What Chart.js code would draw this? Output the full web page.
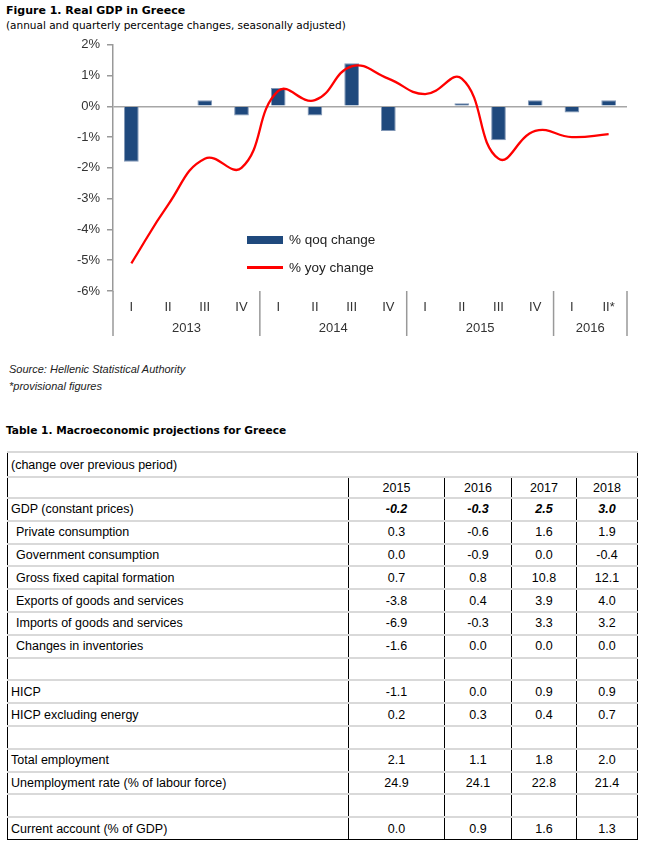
<!DOCTYPE html>
<html lang="en">
<head>
    <meta charset="UTF-8">
    <title>Real GDP in Greece</title>
    <script src="https://cdn.jsdelivr.net/npm/chart.js"></script>
    <style>
        body {
            margin: 0;
            width: 656px;
            height: 853px;
            position: relative;
            background: #fff;
            font-family: "Liberation Sans", Arial, sans-serif;
            color: #000;
        }
        .abs { position: absolute; white-space: nowrap; }
        .title { font-family: "DejaVu Sans", Verdana, sans-serif; font-weight: bold; font-size: 11px; line-height: 14px; }
        .subtitle { font-family: "DejaVu Sans", Verdana, sans-serif; font-size: 10.5px; line-height: 14px; }
        .note { font-style: italic; font-size: 11px; line-height: 14px; color: #222; }
        #chartBox { position: absolute; left: 0; top: 30px; width: 645px; height: 318px; }
        .legend-text { font-size: 13.5px; line-height: 16px; color: #222; }
        table {
            position: absolute;
            left: 7px;
            top: 451px;
            border-collapse: collapse;
            table-layout: fixed;
            font-size: 12.5px;
        }
        td { padding: 0; height: 20.8px; border-top: 2px solid #d9d9d9; border-bottom: 2px solid #d9d9d9;
             border-left: 1.5px solid #000; border-right: 1.5px solid #000; text-align: center; }
        td.lbl { text-align: left; padding-left: 3px; }
        td.sub { padding-left: 8px; }
        tr.cap td { height: 23px; border-right: 1.5px solid #000; border-bottom: 1.5px solid #000; }
        tr.head td { height: 19px; border-bottom: 1.5px solid #000; }
        tr.bold td.v { font-weight: bold; font-style: italic; }
        tr.last td { border-bottom: 1.5px solid #000; }
    </style>
</head>
<body>
    <div class="abs title" style="left:6px; top:4px;">Figure 1. Real GDP in Greece</div>
    <div class="abs subtitle" style="left:6px; top:18px;">(annual and quarterly percentage changes, seasonally adjusted)</div>

    <div id="chartBox"><canvas id="gdpChart"></canvas></div>

    <div class="abs" style="left:247px; top:236px; width:36px; height:8px; background:#1F497D;"></div>
    <div class="abs legend-text" id="legQoq" style="left:289px; top:232px;"></div>
    <div class="abs" style="left:247px; top:266px; width:36px; height:2.5px; background:#FF0000;"></div>
    <div class="abs legend-text" id="legYoy" style="left:289px; top:260px;"></div>

    <div class="abs note" style="left:9px; top:362px;">Source: Hellenic Statistical Authority</div>
    <div class="abs note" style="left:9px; top:379px;">*provisional figures</div>

    <div class="abs title" style="left:6px; top:423px; font-size:10.6px;">Table 1. Macroeconomic projections for Greece</div>
    <table id="projTable"></table>

    <script>
        // chart data
        const quarters = ['I', 'II', 'III', 'IV', 'I', 'II', 'III', 'IV', 'I', 'II', 'III', 'IV', 'I', 'II*'];
        const years = ['2013', '2014', '2015', '2016'];
        const quartersPerYear = [4, 4, 4, 2];
        const qoqChange = [-1.8, 0, 0.2, -0.3, 0.6, -0.3, 1.4, -0.8, 0, 0.1, -1.1, 0.2, -0.2, 0.2];
        const yoyChange = [-5.1, -3.2, -1.7, -2.0, 0.5, 0.2, 1.3, 0.9, 0.4, 0.9, -1.7, -0.8, -1.0, -0.9];
        const qoqLabel = '% qoq change';
        const yoyLabel = '% yoy change';

        // table data
        const tableCaption = '(change over previous period)';
        const tableYears = ['2015', '2016', '2017', '2018'];
        const rowLabels = ['GDP (constant prices)', 'Private consumption', 'Government consumption',
            'Gross fixed capital formation', 'Exports of goods and services', 'Imports of goods and services',
            'Changes in inventories', '', 'HICP', 'HICP excluding energy', '', 'Total employment',
            'Unemployment rate (% of labour force)', '', 'Current account (% of GDP)'];
        const subRows = [1, 2, 3, 4, 5, 6];
        const val2015 = [-0.2, 0.3, 0.0, 0.7, -3.8, -6.9, -1.6, null, -1.1, 0.2, null, 2.1, 24.9, null, 0.0];
        const val2016 = [-0.3, -0.6, -0.9, 0.8, 0.4, -0.3, 0.0, null, 0.0, 0.3, null, 1.1, 24.1, null, 0.9];
        const val2017 = [2.5, 1.6, 0.0, 10.8, 3.9, 3.3, 0.0, null, 0.9, 0.4, null, 1.8, 22.8, null, 1.6];
        const val2018 = [3.0, 1.9, -0.4, 12.1, 4.0, 3.2, 0.0, null, 0.9, 0.7, null, 2.0, 21.4, null, 1.3];

        document.getElementById('legQoq').textContent = qoqLabel;
        document.getElementById('legYoy').textContent = yoyLabel;

        // year labels + separators under the quarter ticks
        const yearGroups = {
            id: 'yearGroups',
            afterDraw(chart) {
                const x = chart.scales.x, area = chart.chartArea, ctx = chart.ctx;
                const half = (x.getPixelForValue(1) - x.getPixelForValue(0)) / 2;
                ctx.save();
                ctx.strokeStyle = '#999';
                ctx.lineWidth = 1.5;
                ctx.fillStyle = '#333';
                ctx.font = '13px "Liberation Sans", Arial';
                ctx.textAlign = 'center';
                ctx.textBaseline = 'middle';
                const vline = (px) => {
                    ctx.beginPath();
                    ctx.moveTo(px, area.bottom);
                    ctx.lineTo(px, area.bottom + 45);
                    ctx.stroke();
                };
                let start = 0;
                vline(x.getPixelForValue(0) - half);
                years.forEach((yr, g) => {
                    const end = start + quartersPerYear[g] - 1;
                    const xL = x.getPixelForValue(start) - half;
                    const xR = x.getPixelForValue(end) + half;
                    vline(xR);
                    ctx.fillText(yr, (xL + xR) / 2, area.bottom + 37);
                    start = end + 1;
                });
                ctx.restore();
            }
        };

        const ctx = document.getElementById('gdpChart').getContext('2d');
        new Chart(ctx, {
            type: 'bar',
            data: {
                labels: quarters,
                datasets: [
                    {
                        type: 'line',
                        label: yoyLabel,
                        data: yoyChange,
                        borderColor: '#FF0000',
                        borderWidth: 2.3,
                        pointRadius: 0,
                        tension: 0.45,
                        fill: false
                    },
                    {
                        label: qoqLabel,
                        data: qoqChange,
                        backgroundColor: '#1F497D',
                        borderColor: '#8197B6',
                        borderWidth: 1,
                        barPercentage: 0.4,
                        categoryPercentage: 1
                    }
                ]
            },
            options: {
                responsive: true,
                maintainAspectRatio: false,
                animation: false,
                layout: { padding: { top: 2, right: 18, left: 0, bottom: 0 } },
                plugins: { legend: { display: false }, tooltip: { enabled: false } },
                scales: {
                    x: {
                        grid: { display: false },
                        border: { display: false },
                        ticks: { color: '#333', font: { size: 13, family: '"Liberation Sans", Arial' }, padding: 1, maxRotation: 0 },
                        afterFit(scale) { scale.height = 57; }
                    },
                    y: {
                        min: -6,
                        max: 2,
                        border: { display: true, color: '#999', width: 1.5 },
                        grid: {
                            color: c => c.tick.value === 0 ? '#A6A6A6' : 'rgba(0,0,0,0)',
                            lineWidth: 1.5,
                            tickColor: '#999',
                            tickLength: 6
                        },
                        ticks: {
                            stepSize: 1,
                            padding: 7,
                            color: '#333',
                            font: { size: 13, family: '"Liberation Sans", Arial' },
                            callback: v => v + '%'
                        },
                        afterFit(scale) { scale.width = 113; }
                    }
                }
            },
            plugins: [yearGroups]
        });

        // build the table
        const table = document.getElementById('projTable');
        const colW = [341, 96, 67, 65, 61];
        const cg = document.createElement('colgroup');
        colW.forEach(w => { const c = document.createElement('col'); c.style.width = w + 'px'; cg.appendChild(c); });
        table.appendChild(cg);

        let tr = table.insertRow();
        tr.className = 'cap';
        let td = tr.insertCell();
        td.colSpan = 5;
        td.className = 'lbl';
        td.textContent = tableCaption;

        tr = table.insertRow();
        tr.className = 'head';
        tr.insertCell();
        tableYears.forEach(y => { tr.insertCell().textContent = y; });

        const cols = [val2015, val2016, val2017, val2018];
        rowLabels.forEach((lab, i) => {
            const r = table.insertRow();
            if (i === 0) r.className = 'bold';
            if (i === rowLabels.length - 1) r.className = 'last';
            const c0 = r.insertCell();
            c0.className = 'lbl' + (subRows.includes(i) ? ' sub' : '');
            c0.textContent = lab;
            cols.forEach(col => {
                const c = r.insertCell();
                c.className = 'v';
                c.textContent = col[i] === null ? '' : col[i].toFixed(1);
            });
        });
    </script>
</body>
</html>
